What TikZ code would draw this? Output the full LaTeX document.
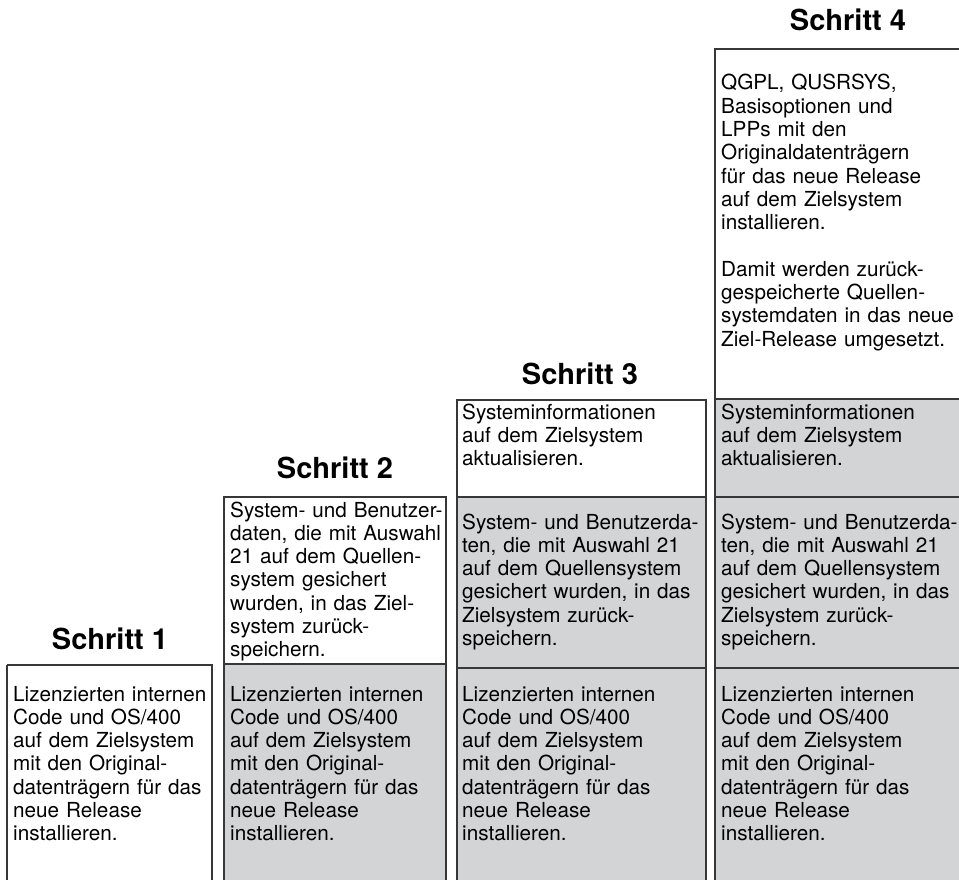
\documentclass[tikz,border=0pt]{standalone}
\usepackage{fontspec}
\setmainfont{TeX Gyre Heros}
\usepackage{tikz}
\usetikzlibrary{positioning}

\definecolor{cellgray}{RGB}{211,212,214}
\definecolor{rulegray}{RGB}{55,55,55}

\tikzset{
  cell/.style={draw=rulegray, line width=1.4pt},
  shaded/.style={cell, fill=cellgray},
  blank/.style={cell, fill=white},
  body/.style={anchor=base west, inner sep=0pt, text width=250pt, align=left,
    font=\fontsize{20.7}{23.3}\selectfont},
  head/.style={anchor=base, inner sep=0pt, font=\fontsize{29}{32}\selectfont\bfseries}
}

\begin{document}
\begin{tikzpicture}[x=1pt, y=-1pt]
            \useasboundingbox (0,0) rectangle (959,880);

            % Define boxes
            \draw[blank]  (7,665) -- (7,885) (7,665) -- (212,665) -- (212,885);
            \draw[shaded] (224,664) rectangle (446,885);
            \draw[blank]  (224,497) rectangle (446,664);
            \draw[shaded] (457,668) rectangle (706,885);
            \draw[shaded] (457,497) rectangle (706,668);
            \draw[blank]  (457,400) rectangle (706,497);
            \draw[shaded] (715,668) rectangle (965,885);
            \draw[shaded] (715,497) rectangle (965,668);
            \draw[shaded] (715,399) rectangle (965,497);
            \draw[blank]  (715,49) rectangle (965,399);

            % Headings
            \node[head] (h1) at (110,649) {Schritt 1};
            \node[head] (h2) at (335,478) {Schritt 2};
            \node[head] (h3) at (580,384) {Schritt 3};
            \node[head] (h4) at (848,31) {Schritt 4};

            % Step 1
            \node[body] (s1a) at (13,701) {Lizenzierten internen\\Code und OS/400\\auf dem Zielsystem\\mit den Original-\\datentr\"agern f\"ur das\\neue Release\\installieren.};

            % Step 2
            \node[body] (s2b) at (230,517) {System- und Benutzer-\\daten, die mit Auswahl\\21 auf dem Quellen-\\system gesichert\\wurden, in das Ziel-\\system zur\"uck-\\speichern.};
            \node[body] (s2a) at (230,701) {Lizenzierten internen\\Code und OS/400\\auf dem Zielsystem\\mit den Original-\\datentr\"agern f\"ur das\\neue Release\\installieren.};

            % Step 3
            \node[body] (s3c) at (462,419) {Systeminformationen\\auf dem Zielsystem\\aktualisieren.};
            \node[body] (s3b) at (462,529) {System- und Benutzerda-\\ten, die mit Auswahl 21\\auf dem Quellensystem\\gesichert wurden, in das\\Zielsystem zur\"uck-\\speichern.};
            \node[body] (s3a) at (462,701) {Lizenzierten internen\\Code und OS/400\\auf dem Zielsystem\\mit den Original-\\datentr\"agern f\"ur das\\neue Release\\installieren.};

            % Step 4
            \node[body] (s4d) at (721,90) {QGPL, QUSRSYS,\\Basisoptionen und\\LPPs mit den\\Originaldatentr\"agern\\f\"ur das neue Release\\auf dem Zielsystem\\installieren.\\[23.3pt]Damit werden zur\"uck-\\gespeicherte Quellen-\\systemdaten in das neue\\Ziel-Release umgesetzt.};
            \node[body] (s4c) at (721,419) {Systeminformationen\\auf dem Zielsystem\\aktualisieren.};
            \node[body] (s4b) at (721,529) {System- und Benutzerda-\\ten, die mit Auswahl 21\\auf dem Quellensystem\\gesichert wurden, in das\\Zielsystem zur\"uck-\\speichern.};
            \node[body] (s4a) at (721,701) {Lizenzierten internen\\Code und OS/400\\auf dem Zielsystem\\mit den Original-\\datentr\"agern f\"ur das\\neue Release\\installieren.};
          \end{tikzpicture}
\end{document}
